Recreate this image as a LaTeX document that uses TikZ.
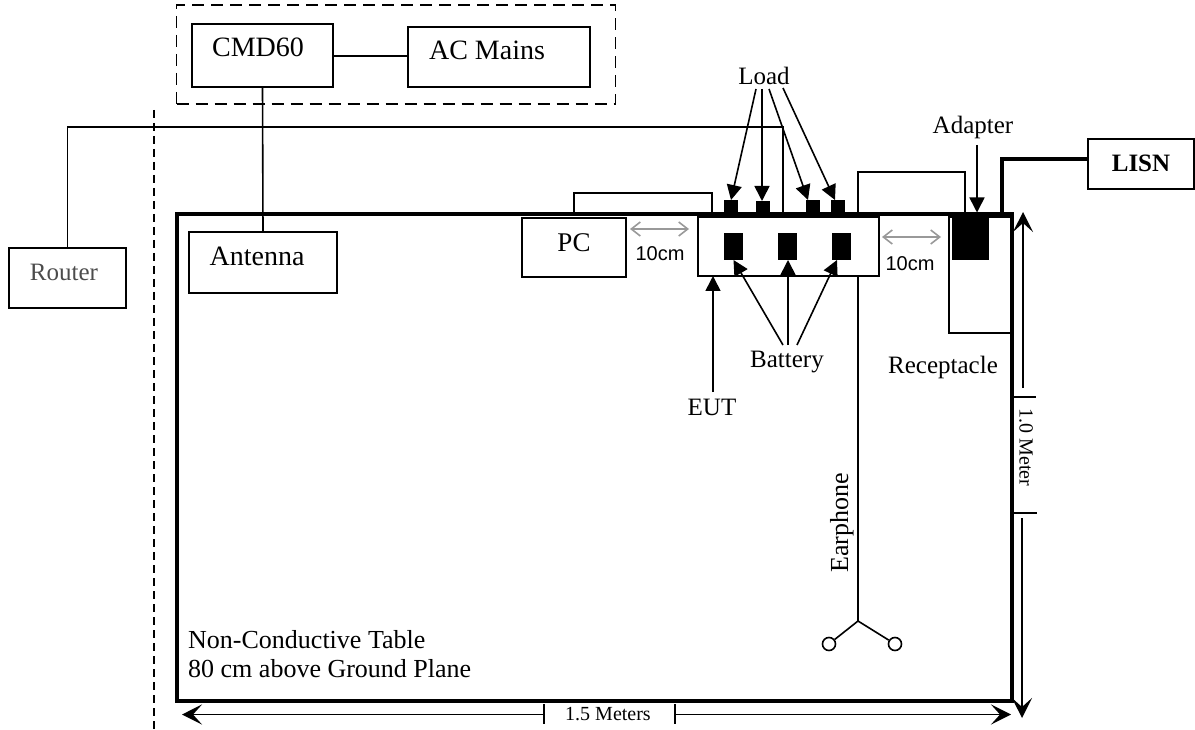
\documentclass[tikz,border=0pt]{standalone}
\usepackage{fontspec}
\setmainfont{Liberation Serif}
\setsansfont{Liberation Sans}
\usetikzlibrary{arrows.meta, calc}
\newcommand{\fsize}[1]{\fontsize{#1}{#1}\selectfont}
\tikzset{
  box/.style={rectangle, draw=black, line width=1.6pt, inner sep=0pt, outer sep=0pt},
  block/.style={rectangle, fill=black, inner sep=0pt, outer sep=0pt},
  txt/.style={anchor=base, inner sep=0pt, outer sep=0pt},
  wire/.style={line width=1.6pt},
  thickwire/.style={line width=3.2pt},
  pointer/.style={line width=1.6pt, -{Triangle[length=15pt,width=15pt]}},
  dimarrow/.style={line width=1.6pt, -{Stealth[length=20pt,width=20pt,inset=9pt]}},
  gap/.style={draw=black!40, line width=1.6pt, {Straight Barb[length=9pt,width=14pt]}-{Straight Barb[length=9pt,width=14pt]}}
}
\begin{document}
\begin{tikzpicture}[x=1pt,y=-1pt]
    \useasboundingbox (0,0) rectangle (1195,730);

    % Table and the boxes around it
    \node[box, line width=3.3pt, minimum width=835pt, minimum height=487pt] (table) at (594.5,457.5) {};
    \node[box, minimum width=141pt, minimum height=63pt] (cmd) at (262.5,55.5) {};
    \node[box, minimum width=182pt, minimum height=60pt] (mains) at (499,57) {};
    \node[box, minimum width=148pt, minimum height=61pt] (antenna) at (263,262.5) {};
    \node[box, minimum width=117pt, minimum height=60pt] (router) at (67.5,278) {};
    \node[box, minimum width=104pt, minimum height=59pt] (pc) at (574,247.5) {};
    \node[box, minimum width=181pt, minimum height=59pt] (eut) at (788.5,246.5) {};
    \node[box, minimum width=64pt, minimum height=116pt] (receptacle) at (981,275) {};
    \node[box, minimum width=106pt, minimum height=50pt] (lisn) at (1141,164) {};
    \node[block, minimum width=37pt, minimum height=43pt] (adapter) at (970.5,238.5) {};

    % Dashed outline and the dashed line
    \node[box, dash pattern=on 12pt off 7pt, minimum width=439pt, minimum height=99pt] (remote) at (396,54.5) {};
    \coordinate (walltop) at (154,110);
    \coordinate (wallend) at (154,730);
    \draw[wire, dash pattern=on 8pt off 5pt] (walltop) -- (wallend);

    % Loads and batteries
    \foreach \name/\cx/\cy/\h in {load1/731/207/14, load2/763/207.5/13, load3/813/207/14, load4/838/207/14} {
        \node[block, minimum width=14pt, minimum height=\h pt] (\name) at (\cx,\cy) {};
    }
    \foreach \name/\cx in {batt1/733.5, batt2/787.5, batt3/841.5} {
        \node[block, minimum width=19pt, minimum height=27pt] (\name) at (\cx,246.5) {};
    }

    % Texts
    \node[txt, font=\fsize{28}] (cmdtext) at (258,57) {CMD60};
    \node[txt, font=\fsize{28}] (mainstext) at (487,60) {AC Mains};
    \node[txt, font=\fsize{28}] (antennatext) at (257,266) {Antenna};
    \node[txt, font=\fsize{25}, text=black!70] (routertext) at (64,281) {Router};
    \node[txt, font=\fsize{27}] (pctext) at (574,252) {PC};
    \node[txt, font=\fsize{25}\bfseries] (lisntext) at (1141,172) {LISN};
    \node[txt, font=\fsize{25}] (loadtext) at (764,85) {Load};
    \node[txt, font=\fsize{25}] (adaptertext) at (973,134) {Adapter};
    \node[txt, font=\fsize{25}] (receptacletext) at (943,373) {Receptacle};
    \node[txt, font=\fsize{25}] (batterytext) at (787,367) {Battery};
    \node[txt, font=\fsize{25}] (euttext) at (712,415) {EUT};
    \node[txt, font=\fsize{26}, rotate=90] (earphonetext) at (848,523) {Earphone};
    \node[txt, font=\fsize{20}\sffamily] (gapleft) at (660,261) {10cm};
    \node[txt, font=\fsize{20}\sffamily] (gapright) at (910,271) {10cm};
    \node[txt, font=\fsize{20}, rotate=-90] (metertext) at (1019.5,447.5) {1.0 Meter};
    \node[txt, font=\fsize{20}] (meterstext) at (608,720) {1.5 Meters};
    \node[anchor=south west, inner sep=0pt, align=left, font=\fontsize{26}{29}\selectfont] (tabletext) at (188,678) {Non-Conductive Table\\80 cm above Ground Plane};

    % Wires
    \draw[wire] (cmd.east |- 0,56) -- (mains.west |- 0,56);
    \draw[wire] (cmd.south) -- (antenna.north);
    \coordinate (routertop) at (783,127);
    \coordinate (routerdrop) at (783,214);
    \draw[wire] (router.north) |- (routertop) -- (routerdrop);
    \coordinate (pcleft) at (574,214);
    \coordinate (pctop) at (712,193);
    \coordinate (pcright) at (712,214);
    \draw[wire] (pcleft) |- (pctop) -- (pcright);
    \coordinate (eutleft) at (858,214);
    \coordinate (euttop) at (965,172);
    \coordinate (adapterleft) at (965,212);
    \draw[wire] (eutleft) |- (euttop) -- (adapterleft);
    \coordinate (lisnleft) at (1002,214);
    \draw[thickwire] (lisn.west |- 0,159) -| (lisnleft);

    % Earphone
    \coordinate (fork) at (858,621);
    \node[circle, draw, line width=1.6pt, minimum size=13pt, inner sep=0pt] (earl) at (829,644) {};
    \node[circle, draw, line width=1.6pt, minimum size=13pt, inner sep=0pt] (earr) at (895,644) {};
    \draw[wire] (eut.south -| fork) -- (fork);
    \draw[wire] (fork) -- (earl);
    \draw[wire] (fork) -- (earr);

    % Pointers
    \coordinate (ldA) at (756,89);
    \coordinate (ldB) at (762,89);
    \coordinate (ldC) at (769,89);
    \coordinate (ldD) at (783,88);
    \draw[pointer] (ldA) -- (load1.north);
    \draw[pointer] (ldB) -- (load2.north -| ldB);
    \draw[pointer] (ldC) -- ([xshift=2pt]load3.north west);
    \draw[pointer] (ldD) -- ([xshift=4pt]load4.north west);
    \coordinate (btA) at (783,345);
    \coordinate (btB) at (788,345);
    \coordinate (btC) at (797,345);
    \draw[pointer] (btA) -- (batt1.south);
    \draw[pointer] (btB) -- (batt2.south -| btB);
    \draw[pointer] (btC) -- ([xshift=5pt]batt3.south west);
    \coordinate (eutfoot) at (713,392);
    \draw[pointer] (eutfoot) -- (eut.south -| eutfoot);
    \coordinate (adapterfoot) at (977,145);
    \coordinate (adaptertip) at (977,212.5);
    \draw[pointer] (adapterfoot) -- (adaptertip);

    % 10cm gaps
    \coordinate (ga) at (630,229);
    \coordinate (gb) at (689,229);
    \draw[gap] (ga) -- (gb);
    \coordinate (gc) at (882,237);
    \coordinate (gd) at (941,237);
    \draw[gap] (gc) -- (gd);

    % Dimensions
    \coordinate (ra) at (1023,388);
    \coordinate (rb) at (1023,212);
    \draw[dimarrow] (ra) -- (rb);
    \coordinate (rc) at (1022,518);
    \coordinate (rd) at (1022,718);
    \draw[dimarrow] (rc) -- (rd);
    \coordinate (ta) at (1013,397);
    \coordinate (tb) at (1036,397);
    \draw[wire] (ta) -- (tb);
    \coordinate (tc) at (1013,513);
    \coordinate (td) at (1037,513);
    \draw[wire] (tc) -- (td);

    \coordinate (ba) at (544,714.5);
    \coordinate (bb) at (182,714.5);
    \draw[dimarrow] (ba) -- (bb);
    \coordinate (bc) at (675,714.5);
    \coordinate (bd) at (1011,714.5);
    \draw[dimarrow] (bc) -- (bd);
    \coordinate (te) at (544,704);
    \coordinate (tf) at (544,724);
    \draw[wire] (te) -- (tf);
    \coordinate (tg) at (675,704);
    \coordinate (th) at (675,724);
    \draw[wire] (tg) -- (th);

\end{tikzpicture}
\end{document}
